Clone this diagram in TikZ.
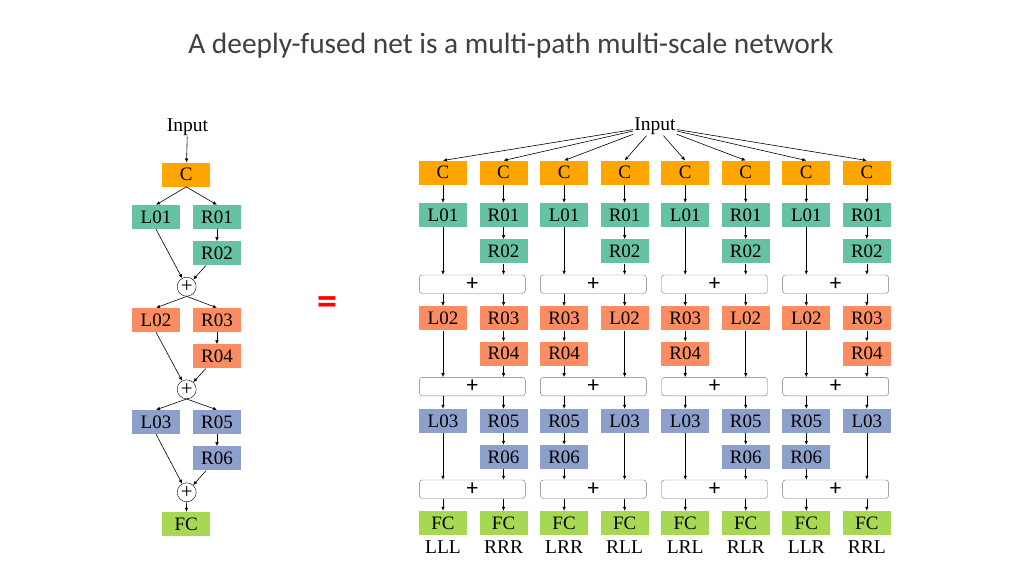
\documentclass[tikz,border=0pt]{standalone}
\usepackage{fontspec}
\setmainfont{Liberation Serif}
\newfontfamily\titlefont{Carlito}
\newcommand\plusfont{\titlefont\fontsize{23}{23}\selectfont}
\usetikzlibrary{arrows.meta, positioning}

\definecolor{convorange}{HTML}{FFA500}
\definecolor{stageone}{HTML}{66C2A5}
\definecolor{stagetwo}{HTML}{FC8D62}
\definecolor{stagethree}{HTML}{8DA0CB}
\definecolor{fcgreen}{HTML}{A6D854}
\definecolor{titlegray}{HTML}{404040}

\begin{document}
\begin{tikzpicture}[
  x=1pt, y=-1pt,
  box/.style={
    minimum width=48pt,
    minimum height=24pt,
    inner sep=0pt,
    font=\fontsize{19}{20}\selectfont
  },
  sumcircle/.style={draw, circle, fill=white, minimum size=19pt, inner sep=0pt, font=\fontsize{21}{21}\selectfont},
  sumbox/.style={draw=black!55, rounded corners=3pt, minimum width=106pt, minimum height=18.5pt, inner sep=0pt, font=\plusfont},
  lbl/.style={font=\fontsize{19.5}{20}\selectfont, inner sep=1pt},
  arr/.style={-{Latex[length=4pt, width=3.5pt]}, line width=0.6pt}
]
\useasboundingbox (0,0) rectangle (1020,574);

% Title
\node[font=\titlefont\fontsize{29.4}{32}\selectfont, text=titlegray, anchor=base] (title) at (511,53) {A deeply-fused net is a multi-path multi-scale network};

% Left - deeply-fused net
\node[lbl] (in) at (187.5,127) {Input};
\node[box, fill=convorange] (c) at (186.2,174.7) {C};
\node[box, fill=stageone] (l01) at (156,217) {L01};
\node[box, fill=stageone] (r01) at (217,217) {R01};
\node[box, fill=stageone, below=12pt of r01] (r02) {R02};
\node[sumcircle] (p1) at (186.7,286.7) {+};
\node[box, fill=stagetwo] (l02) at (156,320) {L02};
\node[box, fill=stagetwo] (r03) at (217,320) {R03};
\node[box, fill=stagetwo, below=12pt of r03] (r04) {R04};
\node[sumcircle] (p2) at (186.7,389.3) {+};
\node[box, fill=stagethree] (l03) at (156,422) {L03};
\node[box, fill=stagethree] (r05) at (217,422) {R05};
\node[box, fill=stagethree, below=12pt of r05] (r06) {R06};
\node[sumcircle] (p3) at (186.7,492.3) {+};
\node[box, fill=fcgreen] (fc) at (186.3,524) {FC};

\draw[arr] (in) -- (c);
\draw[arr] (c.south) -- (l01.north);
\draw[arr] (c.south) -- (r01.north);
\draw[arr] (r01) -- (r02);
\draw[arr] (l01.south) -- (p1);
\draw[arr] (r02) -- (p1);
\draw[arr] (p1.south) -- (l02.north);
\draw[arr] (p1.south) -- (r03.north);
\draw[arr] (r03) -- (r04);
\draw[arr] (l02.south) -- (p2);
\draw[arr] (r04) -- (p2);
\draw[arr] (p2.south) -- (l03.north);
\draw[arr] (p2.south) -- (r05.north);
\draw[arr] (r05) -- (r06);
\draw[arr] (l03.south) -- (p3);
\draw[arr] (r06) -- (p3);
\draw[arr] (p3) -- (fc);

% Equals
\node[text=red, font=\titlefont\bfseries\fontsize{40}{40}\selectfont] (eq) at (327.5,305.8) {=};

% Right - multi-path multi-scale network
\node[lbl] (input) at (655,126) {Input};

% fusion boxes, one per pair of columns
\foreach \k in {1,...,4} {
  \pgfmathsetmacro\xs{472.3+121.1*(\k-1)}
  \node[sumbox] (suma\k) at (\xs,284.2) {+};
  \node[sumbox] (sumb\k) at (\xs,386.6) {+};
  \node[sumbox] (sumc\k) at (\xs,489.2) {+};
}

\foreach \i/\a/\b/\c in {1/L/L/L, 2/R/R/R, 3/L/R/R, 4/R/L/L, 5/L/R/L, 6/R/L/R, 7/L/L/R, 8/R/R/L} {
  \pgfmathsetmacro\x{443+60.55*(\i-1)}
  \pgfmathtruncatemacro\k{(\i+1)/2}
  \node[box, fill=convorange] (c\i) at (\x,172.7) {C};
  % stage 1
  \if\a L
    \node[box, fill=stageone, alias=enda\i] (topa\i) at (\x,215) {L01};
  \else
    \node[box, fill=stageone] (topa\i) at (\x,215) {R01};
    \node[box, fill=stageone] (enda\i) at (\x,251.3) {R02};
    \draw[arr] (topa\i) -- (enda\i);
  \fi
  % stage 2
  \if\b L
    \node[box, fill=stagetwo, alias=endb\i] (topb\i) at (\x,318.3) {L02};
  \else
    \node[box, fill=stagetwo] (topb\i) at (\x,318.3) {R03};
    \node[box, fill=stagetwo] (endb\i) at (\x,353.7) {R04};
    \draw[arr] (topb\i) -- (endb\i);
  \fi
  % stage 3
  \if\c L
    \node[box, fill=stagethree, alias=endc\i] (topc\i) at (\x,421) {L03};
  \else
    \node[box, fill=stagethree] (topc\i) at (\x,421) {R05};
    \node[box, fill=stagethree] (endc\i) at (\x,457) {R06};
    \draw[arr] (topc\i) -- (endc\i);
  \fi
  \node[box, fill=fcgreen] (fc\i) at (\x,523) {FC};
  \node[lbl] (path\i) at (\x,547.5) {\a\b\c};

  \draw[arr] (input) -- (c\i.north);
  \draw[arr] (c\i) -- (topa\i);
  \draw[arr] (enda\i.south) -- (enda\i.south |- suma\k.north);
  \draw[arr] (suma\k.south -| topb\i) -- (topb\i);
  \draw[arr] (endb\i.south) -- (endb\i.south |- sumb\k.north);
  \draw[arr] (sumb\k.south -| topc\i) -- (topc\i);
  \draw[arr] (endc\i.south) -- (endc\i.south |- sumc\k.north);
  \draw[arr] (sumc\k.south -| fc\i) -- (fc\i);
}

\end{tikzpicture}
\end{document}
